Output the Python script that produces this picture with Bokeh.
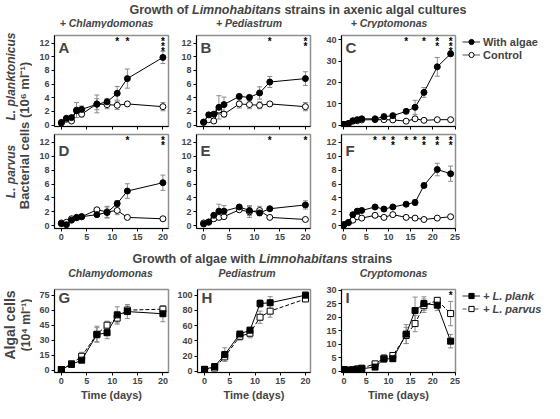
import math
import numpy as np
from bokeh.plotting import figure
from bokeh.models import (Range1d, FixedTicker, Label, Whisker, TeeHead, ColumnDataSource,
                          Legend, LegendItem, Spacer)
from bokeh.layouts import row, column
from bokeh.core.properties import value
from bokeh.embed import file_html
from bokeh.resources import INLINE

FONT = "Liberation Sans"
ERR = "#8a8a8a"
FRAME = "#8f8f8f"

# ---------------- data ----------------
days_short = [0, 1, 2, 3, 4, 7, 9, 11, 13, 20]
days_long = [0, 1, 2, 3, 4, 7, 9, 11, 14, 16, 18, 21, 24]
days_algae = [0, 2, 4, 7, 9, 11, 13, 20]

# L. planktonicus
A_alg = [0.4, 1.0, 1.1, 2.1, 2.3, 3.05, 3.4, 4.65, 6.8, 9.9]
A_alg_err = [0.1, 0.2, 0.2, 0.4, 0.5, 0.8, 0.5, 1.0, 1.4, 0.9]
A_ctl = [0.3, 0.85, 0.6, 2.2, 1.6, 3.1, 3.0, 2.9, 3.1, 2.7]
A_ctl_err = [0.1, 0.1, 0.2, 1.1, 0.4, 1.3, 0.6, 0.6, 0.2, 0.6]

B_alg = [0.45, 1.5, 1.6, 2.6, 3.0, 4.2, 4.05, 4.7, 6.3, 6.8]
B_alg_err = [0.1, 0.3, 0.3, 1.7, 1.1, 0.3, 0.3, 0.9, 0.8, 1.0]
B_ctl = [0.4, 0.8, 0.6, 2.2, 1.6, 3.1, 3.0, 2.9, 3.1, 2.7]
B_ctl_err = [0.1, 0.1, 0.2, 0.6, 0.4, 0.6, 0.6, 0.5, 0.2, 0.6]

C_alg = [0.3, 0.7, 2.0, 2.5, 2.9, 2.9, 3.9, 4.4, 6.4, 8.3, 15.3, 27.3, 33.4]
C_alg_err = [0.1, 0.2, 0.4, 0.5, 0.8, 0.4, 1.3, 0.6, 0.6, 3.3, 2.3, 4.4, 1.1]
C_ctl = [0.3, 0.6, 1.8, 2.0, 2.4, 2.5, 2.5, 2.4, 1.8, 2.9, 2.2, 2.5, 2.5]
C_ctl_err = [0.1, 0.1, 0.3, 0.3, 0.4, 0.4, 0.8, 0.5, 0.3, 0.5, 0.3, 0.4, 0.4]

# L. parvus
D_alg = [0.3, 0.15, 0.8, 1.15, 1.3, 1.6, 1.9, 3.2, 5.0, 6.2]
D_alg_err = [0.05, 0.1, 0.2, 0.2, 0.2, 0.2, 0.8, 0.4, 1.05, 1.1]
D_ctl = [0.4, 0.5, 1.0, 1.2, 1.3, 2.3, 2.0, 2.2, 1.2, 1.0]
D_ctl_err = [0.1, 0.1, 0.2, 0.3, 0.2, 0.2, 0.8, 0.6, 0.2, 0.2]

E_alg = [0.25, 0.55, 1.5, 2.1, 2.1, 2.7, 2.2, 1.85, 2.45, 3.0]
E_alg_err = [0.05, 0.1, 0.3, 1.0, 0.8, 0.2, 0.7, 0.4, 0.2, 0.6]
E_ctl = [0.4, 0.5, 1.0, 1.2, 1.3, 2.3, 2.0, 2.2, 1.2, 0.9]
E_ctl_err = [0.1, 0.1, 0.2, 0.3, 0.2, 0.2, 0.8, 0.6, 0.2, 0.3]

F_alg = [0.15, 0.45, 1.6, 2.1, 2.2, 2.7, 2.4, 2.7, 3.1, 3.35, 5.8, 8.1, 7.5]
F_alg_err = [0.05, 0.1, 0.3, 0.3, 0.2, 0.2, 0.3, 0.2, 0.3, 0.4, 0.3, 0.9, 1.1]
F_ctl = [0.15, 0.45, 0.8, 1.3, 1.1, 1.5, 1.2, 1.6, 1.2, 1.1, 0.9, 1.1, 1.3]
F_ctl_err = [0.05, 0.1, 0.2, 0.4, 0.2, 0.3, 0.2, 0.2, 0.2, 0.2, 0.1, 0.1, 0.2]

# algae with bacteria
G_plank = [0.8, 5.9, 10.1, 35.5, 37.5, 55.3, 58.6, 56.4]
G_plank_err = [0.5, 1.0, 2.0, 7.0, 6.0, 8.0, 7.0, 8.0]
G_parv = [0.8, 6.5, 14.0, 36.0, 45.0, 52.0, 60.0, 61.0]
G_parv_err = [0.5, 1.0, 4.0, 8.0, 4.0, 6.0, 4.0, 3.0]

H_plank = [2.6, 6.3, 22.0, 49.0, 54.0, 89.0, 90.0, 100.0]
H_plank_err = [0.5, 1.0, 9.0, 3.0, 4.0, 5.0, 8.0, 4.0]
H_parv = [2.6, 4.4, 19.0, 46.0, 50.0, 71.0, 79.0, 95.0]
H_parv_err = [0.5, 1.0, 3.0, 5.0, 6.0, 8.0, 8.0, 3.0]

I_plank = [0.7, 0.5, 0.6, 0.8, 1.0, 1.6, 4.6, 4.7, 13.8, 22.5, 25.1, 24.5, 11.2]
I_plank_err = [0.1, 0.1, 0.1, 0.1, 0.2, 0.3, 1.2, 1.0, 3.5, 5.0, 2.5, 2.0, 2.5]
I_parv = [0.7, 0.4, 0.5, 0.9, 1.2, 2.8, 4.9, 5.9, 13.3, 17.7, 24.3, 26.3, 21.4]
I_parv_err = [0.1, 0.1, 0.1, 0.1, 0.2, 0.4, 1.2, 1.0, 3.0, 3.0, 2.5, 0.8, 4.5]

# significance asterisks (day, number of stars)
A_star_days, A_star_n = [11, 13, 20], [1, 1, 3]
B_star_days, B_star_n = [13, 20], [1, 2]
C_star_days, C_star_n = [14, 18, 21, 24], [1, 1, 2, 3]
D_star_days, D_star_n = [13, 20], [1, 2]
E_star_days, E_star_n = [13, 20], [1, 1]
F_star_days, F_star_n = [7, 9, 11, 14, 16, 18, 21, 24], [1, 1, 2, 1, 1, 2, 2, 2]
I_star_days, I_star_n = [24], [1]

ticks_bact = [0, 2, 4, 6, 8, 10, 12]
ticks_C = [0, 10, 20, 30, 40]
ticks_G = [0, 15, 30, 45, 60, 75]
ticks_H = [0, 20, 40, 60, 80, 100]
ticks_I = [0, 5, 10, 15, 20, 25, 30]
xt20 = [0, 5, 10, 15, 20]
xt25 = [0, 5, 10, 15, 20, 25]

legend_top = ["With algae", "Control"]
legend_bottom = ["+ L. plank", "+ L. parvus"]


# ---------------- helpers ----------------
def strip(w, h, top_border=0):
    return figure(width=w, height=h, x_range=Range1d(0, w), y_range=Range1d(0, h - top_border),
                  x_axis_type=None, y_axis_type=None, output_backend="svg",
                  toolbar_location=None, min_border=0, min_border_top=top_border,
                  outline_line_color=None)


def txt(fig, x, y, text, size, style="bold", align="center", angle=0.0):
    fig.add_layout(Label(x=x, y=y, text=text, text_font=FONT, text_font_size=size,
                         text_font_style=style, text_align=align, text_baseline="middle",
                         angle=angle))


def panel(x, ya, ea, yb, eb, kind, xr, yr, yt, xt, fw, fh, lb, rb, tb, bb,
          letter, star_days=None, star_n=None, xlab=True, xtitle=None):
    p = figure(width=lb + fw + rb, height=tb + fh + bb,
               x_range=Range1d(*xr), y_range=Range1d(*yr),
               output_backend="svg", toolbar_location=None,
               min_border_left=lb, min_border_right=rb,
               min_border_top=tb, min_border_bottom=bb)
    p.grid.visible = False
    p.outline_line_color = FRAME
    p.outline_line_width = 1.5
    p.xaxis.ticker = FixedTicker(ticks=xt)
    p.yaxis.ticker = FixedTicker(ticks=yt)
    for ax in (p.xaxis[0], p.yaxis[0]):
        ax.major_tick_out = 3
        ax.major_tick_in = 0
        ax.minor_tick_out = 0
        ax.minor_tick_in = 0
        ax.major_label_standoff = 2
        ax.major_label_text_font = FONT
        ax.major_label_text_font_size = "9px"
        ax.major_label_text_font_style = "bold"
        ax.axis_line_color = "black"
        ax.major_tick_line_color = "black"
    if not xlab:
        p.xaxis.major_label_text_font_size = "0px"
        p.xaxis.major_label_standoff = 0
        p.xaxis.major_label_overrides = {t: "" for t in xt}
    if xtitle:
        p.xaxis.axis_label = xtitle
        p.xaxis.axis_label_text_font = FONT
        p.xaxis.axis_label_text_font_size = "11px"
        p.xaxis.axis_label_text_font_style = "bold"
        p.xaxis.axis_label_standoff = 2

    srcs = []
    for yy, ee in ((ya, ea), (yb, eb)):
        srcs.append(ColumnDataSource(dict(
            x=x, y=yy,
            lo=[v - e for v, e in zip(yy, ee)],
            hi=[v + e for v, e in zip(yy, ee)])))
    for s in srcs:
        p.add_layout(Whisker(source=s, base="x", lower="lo", upper="hi",
                             line_color=ERR, line_width=1,
                             lower_head=TeeHead(size=5, line_color=ERR, line_width=1),
                             upper_head=TeeHead(size=5, line_color=ERR, line_width=1)))
    marker = "circle" if kind == "bact" else "square"
    dash_b = "solid" if kind == "bact" else "4 2"
    p.line("x", "y", source=srcs[1], line_color="black", line_width=1, line_dash=dash_b)
    p.scatter("x", "y", source=srcs[1], marker=marker, size=6,
              fill_color="white", line_color="black", line_width=1)
    p.line("x", "y", source=srcs[0], line_color="black", line_width=1)
    p.scatter("x", "y", source=srcs[0], marker=marker, size=6,
              fill_color="black", line_color="black", line_width=1)

    if star_days:
        sx, sy, so = [], [], []
        for d, n in zip(star_days, star_n):
            for k in range(n):
                sx.append(d)
                sy.append(yr[1])
                so.append(5 * k)
        ssrc = ColumnDataSource(dict(x=sx, y=sy, off=so, t=["*"] * len(sx)))
        p.text(x="x", y="y", text="t", y_offset="off", source=ssrc,
               text_font=value(FONT), text_font_size=value("10px"),
               text_font_style="bold", text_align="center", text_baseline="top",
               text_color="black")

    p.add_layout(Label(x=4, y=fh - 7, x_units="screen", y_units="screen", text=letter,
                       text_font=FONT, text_font_size="15px", text_font_style="bold",
                       text_baseline="top", text_align="left"))
    return p


def legend_fig(w, h, top_off, labels, marker, dash2, style):
    f = strip(w, h, top_border=top_off)
    blank = ColumnDataSource(dict(x=np.array([np.nan]), y=np.array([np.nan])))
    r1 = [f.line("x", "y", source=blank, line_color="#333333", line_width=1),
          f.scatter("x", "y", source=blank, marker=marker, size=6,
                    fill_color="black", line_color="black")]
    r2 = [f.line("x", "y", source=blank, line_color="#555555", line_width=1, line_dash=dash2),
          f.scatter("x", "y", source=blank, marker=marker, size=6,
                    fill_color="white", line_color="black")]
    leg = Legend(items=[LegendItem(label=labels[0], renderers=r1),
                        LegendItem(label=labels[1], renderers=r2)],
                 location="top_left", orientation="vertical",
                 glyph_width=18, glyph_height=13, label_height=13, label_standoff=3,
                 spacing=0, padding=0, margin=0, border_line_color=None,
                 background_fill_alpha=0, label_text_font=FONT,
                 label_text_font_size="11px", label_text_font_style=style)
    f.add_layout(leg)
    return f


# layout geometry (pixels)
LEFT_W = 32
C0 = dict(fw=114, lb=22, rb=6)
C1 = dict(fw=114, lb=22, rb=12)
C2 = dict(fw=114, lb=19, rb=7)
LEG_W = 82
R1 = dict(fh=95, tb=3, bb=5)
R2 = dict(fh=94, tb=3, bb=16)
R3 = dict(fh=91, tb=2, bb=31)
H1 = 3 + 95 + 5
H2 = 3 + 94 + 16
H3 = 2 + 91 + 31

xr20a = (-1.35, 21.1)
xr20b = (-1.4, 21.0)
xr25 = (-0.55, 25.1)

pA = panel(days_short, A_alg, A_alg_err, A_ctl, A_ctl_err, "bact", xr20a, (-0.2, 13.1),
           ticks_bact, xt20, letter="A", star_days=A_star_days, star_n=A_star_n,
           xlab=False, **C0, **R1)
pB = panel(days_short, B_alg, B_alg_err, B_ctl, B_ctl_err, "bact", xr20b, (-0.2, 13.1),
           ticks_bact, xt20, letter="B", star_days=B_star_days, star_n=B_star_n,
           xlab=False, **C1, **R1)
pC = panel(days_long, C_alg, C_alg_err, C_ctl, C_ctl_err, "bact", xr25, (-0.7, 42.0),
           ticks_C, xt25, letter="C", star_days=C_star_days, star_n=C_star_n,
           xlab=False, **C2, **R1)

pD = panel(days_short, D_alg, D_alg_err, D_ctl, D_ctl_err, "bact", xr20a, (-0.4, 13.15),
           ticks_bact, xt20, letter="D", star_days=D_star_days, star_n=D_star_n,
           **C0, **R2)
pE = panel(days_short, E_alg, E_alg_err, E_ctl, E_ctl_err, "bact", xr20b, (-0.4, 13.15),
           ticks_bact, xt20, letter="E", star_days=E_star_days, star_n=E_star_n,
           **C1, **R2)
pF = panel(days_long, F_alg, F_alg_err, F_ctl, F_ctl_err, "bact", xr25, (-0.4, 13.15),
           ticks_bact, xt25, letter="F", star_days=F_star_days, star_n=F_star_n,
           **C2, **R2)

pG = panel(days_algae, G_plank, G_plank_err, G_parv, G_parv_err, "alg", xr20a, (-2.2, 80.6),
           ticks_G, xt20, letter="G", xtitle="Time (days)", **C0, **R3)
pH = panel(days_algae, H_plank, H_plank_err, H_parv, H_parv_err, "alg", xr20b, (-1.5, 107.4),
           ticks_H, xt20, letter="H", xtitle="Time (days)", **C1, **R3)
pI = panel(days_long, I_plank, I_plank_err, I_parv, I_parv_err, "alg", xr25, (-0.4, 30.3),
           ticks_I, xt25, letter="I", star_days=I_star_days, star_n=I_star_n,
           xtitle="Time (days)", **C2, **R3)

leg1 = legend_fig(LEG_W, H1, 7, legend_top, "circle", "solid", "bold")
leg2 = legend_fig(LEG_W, H3, 10, legend_bottom, "square", "4 2", "bold italic")

# ---------------- text strips ----------------
W = LEFT_W + sum(c["lb"] + c["fw"] + c["rb"] for c in (C0, C1, C2)) + LEG_W
top = strip(W, 28)
txt(top, 129, 19, "Growth of", "12.5px", align="left")
txt(top, 191.5, 19, "Limnohabitans", "12.5px", style="bold italic", align="left")
txt(top, 283.9, 19, "strains in axenic algal cultures", "12.5px", align="left")
txt(top, 106, 5.5, "+ Chlamydomonas", "10.5px", style="bold italic")
txt(top, 248.5, 5.5, "+ Pediastrum", "10.5px", style="bold italic")
txt(top, 388.5, 5.5, "+ Cryptomonas", "10.5px", style="bold italic")

mid = strip(W, 35)
txt(mid, 132, 21, "Growth of algae with", "12.5px", align="left")
txt(mid, 258.4, 21, "Limnohabitans", "12.5px", style="bold italic", align="left")
txt(mid, 350.8, 21, "strains", "12.5px", align="left")
txt(mid, 110, 7, "Chlamydomonas", "10.5px", style="bold italic")
txt(mid, 246.6, 7, "Pediastrum", "10.5px", style="bold italic")
txt(mid, 393, 7, "Cryptomonas", "10.5px", style="bold italic")

left1 = strip(LEFT_W, H1 + H2)
txt(left1, 10, 168, "L. planktonicus", "12px", style="bold italic", angle=math.pi / 2)
txt(left1, 10, 73, "L. parvus", "12px", style="bold italic", angle=math.pi / 2)
txt(left1, 24, 109, "Bacterial cells (10\u2076 ml\u207b\u00b9)", "13px", angle=math.pi / 2)

left2 = strip(LEFT_W, H3)
txt(left2, 9, 71, "Algal cells", "14px", angle=math.pi / 2)
txt(left2, 25, 71, "(10\u2074 ml\u207b\u00b9)", "12px", angle=math.pi / 2)

layout = column(
    top,
    row(left1, column(row(pA, pB, pC, leg1),
                      row(pD, pE, pF, Spacer(width=LEG_W, height=H2)))),
    mid,
    row(left2, pG, pH, pI, leg2),
)

open("out.html", "w").write(file_html(layout, INLINE))
